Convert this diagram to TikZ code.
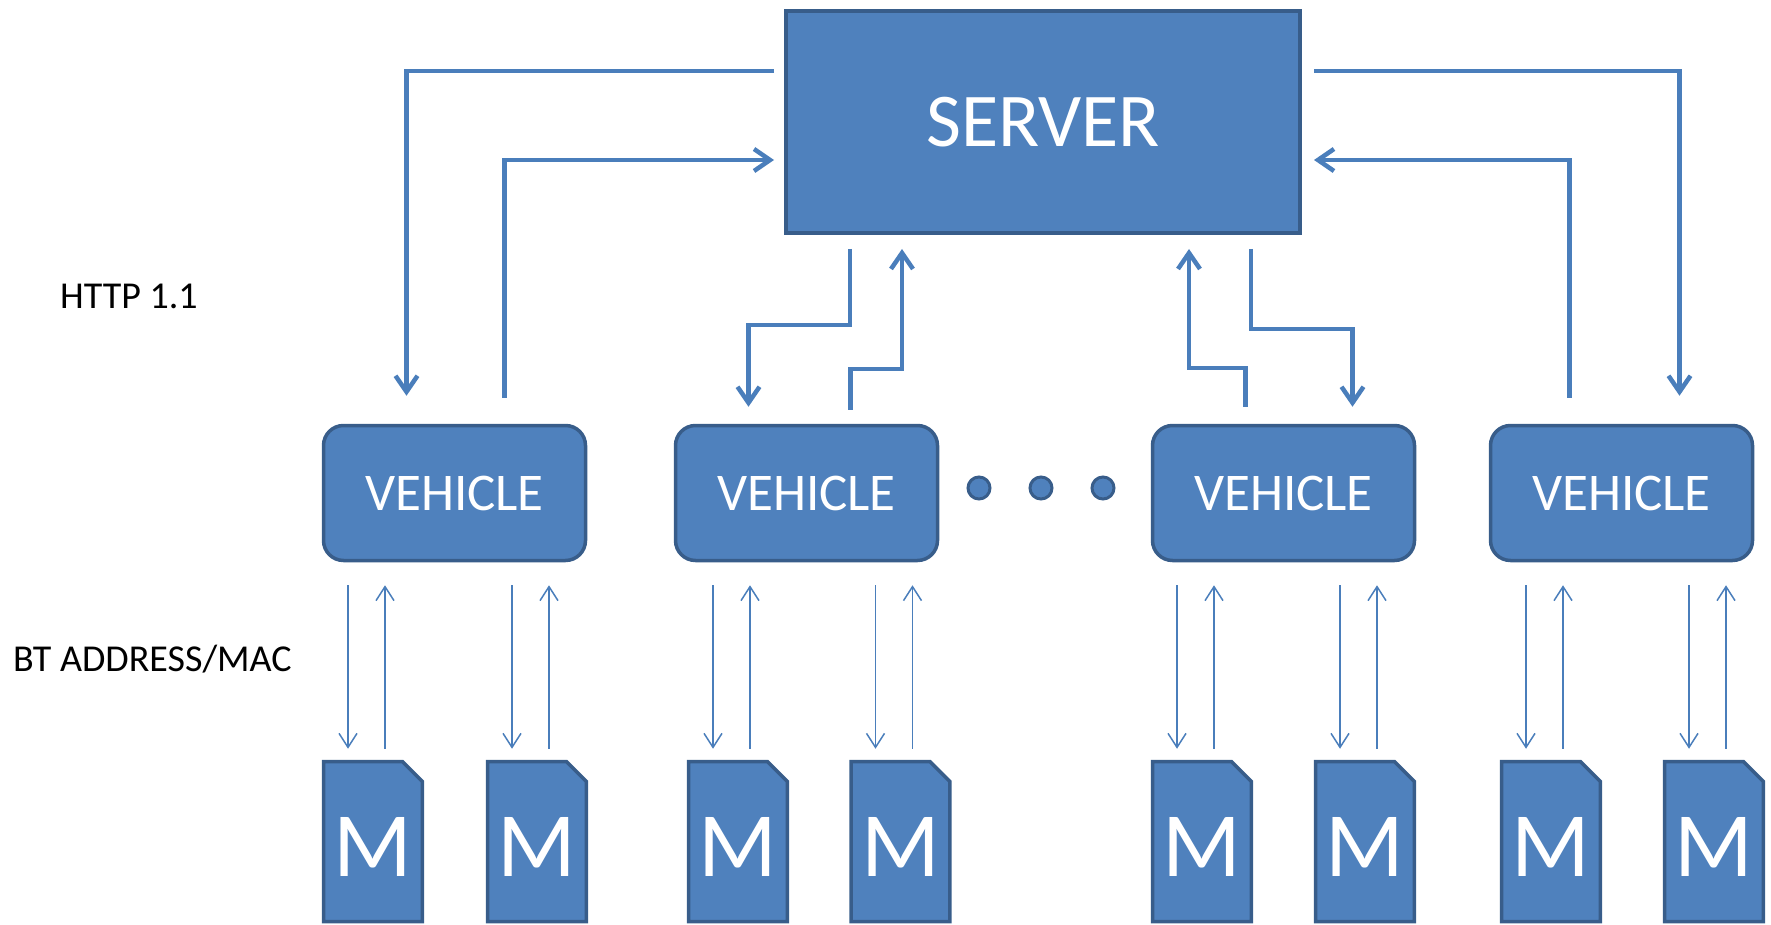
\documentclass[tikz,border=0pt]{standalone}
\usepackage{fontspec}
\setmainfont{Carlito}
\usetikzlibrary{calc,shapes.misc,arrows.meta}
\definecolor{boxfill}{HTML}{4F81BD}
\definecolor{boxline}{HTML}{385D8A}
\definecolor{linkcol}{HTML}{4A7EBB}

\begin{document}
\begin{tikzpicture}[x=1pt,y=1pt,
  server/.style={draw=boxline,line width=4pt,fill=boxfill,text=white,
    minimum width=514pt,minimum height=222pt,font=\fontsize{76}{80}\selectfont},
  vehicle/.style={draw=boxline,line width=3.5pt,fill=boxfill,text=white,rounded corners=20pt,
    minimum width=262pt,minimum height=135pt,font=\fontsize{53}{56}\selectfont},
  mote/.style={chamfered rectangle,chamfered rectangle corners=north east,
    chamfered rectangle xsep=10pt,chamfered rectangle ysep=10pt,
    draw=boxline,line width=3.5pt,fill=boxfill,text=white,inner sep=0pt,text height=70pt,
    minimum width=98.5pt,minimum height=160pt,font=\fontsize{92}{94}\selectfont},
  etcdot/.style={circle,draw=boxline,line width=3pt,fill=boxfill,minimum size=22pt,inner sep=0pt},
  http/.style={draw=linkcol,line width=4.5pt,-{Straight Barb[length=16pt,width=22pt]}},
  bt/.style={draw=linkcol,line width=1.5pt,-{Straight Barb[length=14pt,width=18pt]}},
  legend/.style={anchor=base west,inner sep=0pt,font=\fontsize{38}{40}\selectfont}]

\useasboundingbox (0,0) rectangle (1771,-925);

\node[server] (S) at (1043,-122) {SERVER};

\node[vehicle] (V1) at (454.5,-493) {VEHICLE};
\node[vehicle] (V2) at (806.5,-493) {VEHICLE};
\node[vehicle] (V3) at (1283.5,-493) {VEHICLE};
\node[vehicle] (V4) at (1621.5,-493) {VEHICLE};

\node[etcdot] (D1) at (979,-488) {};
\node[etcdot] (D2) at (1041,-488) {};
\node[etcdot] (D3) at (1103,-488) {};

\node[mote] (M1) at (373,-841.5) {M};
\node[mote] (M2) at (537,-841.5) {M};
\node[mote] (M3) at (738,-841.5) {M};
\node[mote] (M4) at (900.5,-841.5) {M};
\node[mote] (M5) at (1202,-841.5) {M};
\node[mote] (M6) at (1365,-841.5) {M};
\node[mote] (M7) at (1551,-841.5) {M};
\node[mote] (M8) at (1714,-841.5) {M};

\node[legend] (http) at (60,-308) {HTTP 1.1};
\node[legend] (btmac) at (13,-671) {BT ADDRESS/MAC};

% server <-> vehicles
\draw[http] ($(S.north west)+(-10,-62)$) -| ($(V1.north)+(-48,28)$);
\draw[http] ($(V1.north)+(50,26)$) |- ($(S.west)+(-10,-38)$);
\draw[http] ($(S.south)+(-193,-14)$) -- ++(0,-76) -| ($(V2.north)+(-58,17)$);
\draw[http] ($(V2.north)+(44,14)$) -- ++(0,41) -| ($(S.south)+(-141,-14)$);
\draw[http] ($(V3.north)+(-38,17)$) -- ++(0,39) -| ($(S.south)+(146,-14)$);
\draw[http] ($(S.south)+(208,-14)$) -- ++(0,-80) -| ($(V3.north)+(69,17)$);
\draw[http] ($(V4.north)+(-52,26)$) |- ($(S.east)+(12,-38)$);
\draw[http] ($(S.north east)+(12,-62)$) -| ($(V4.north)+(58,28)$);

% vehicles <-> motes
\foreach \m/\v in {M1/V1,M2/V1,M3/V2,M4/V2,M5/V3,M6/V3,M7/V4,M8/V4} {
  \draw[bt] ($(\m.north |- \v.south)+(-25,-23)$) -- ($(\m.north)+(-25,11)$);
  \draw[bt] ($(\m.north)+(12,11)$) -- ($(\m.north |- \v.south)+(12,-23)$);
}

\end{tikzpicture}
\end{document}
